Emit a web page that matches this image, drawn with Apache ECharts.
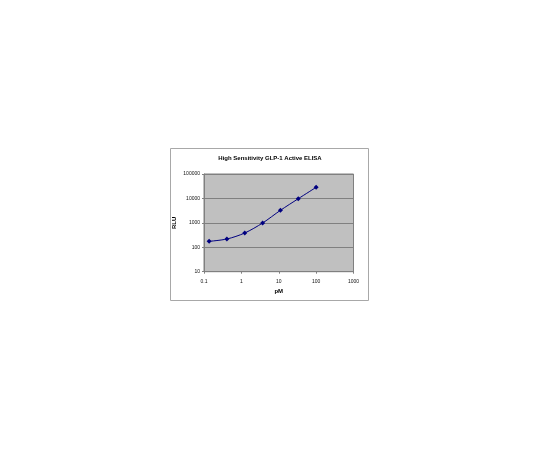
<!DOCTYPE html>
<html>
<head>
<meta charset="utf-8">
<script src="https://cdn.jsdelivr.net/npm/echarts@6/dist/echarts.min.js"></script>
<style>
  html, body { margin: 0; padding: 0; background: #fff; }
  #chart { width: 540px; height: 450px; }
</style>
</head>
<body>
<div id="chart"></div>
<script>
// GLP-1 standard curve, 3-fold dilutions
const concPM = [0.137, 0.41, 1.23, 3.7, 11.1, 33.3, 100];
const rlu = [175, 218, 384, 985, 3260, 9730, 28500];

const chart = echarts.init(document.getElementById('chart'));

const fmt = v => String(Number(v.toPrecision(6)));
const font = 'Liberation Sans, Arial, sans-serif';

const option = {
  backgroundColor: '#fff',
  animation: false,
  title: {
    text: 'High Sensitivity GLP-1 Active ELISA',
    left: 'center',
    top: 150,
    textStyle: { fontFamily: font, fontSize: 6, fontWeight: 'bold', color: '#000' }
  },
  // outer chart frame
  graphic: [{
    type: 'rect',
    shape: { x: 170.5, y: 148.5, width: 198, height: 152 },
    style: { fill: null, stroke: '#a8a8a8', lineWidth: 1 },
    z: -1
  }],
  grid: {
    left: 204, top: 174, width: 149.5, height: 97.7,
    show: true, backgroundColor: '#c0c0c0', borderColor: '#808080', borderWidth: 1
  },
  xAxis: {
    type: 'log', logBase: 10, min: 0.1, max: 1000,
    name: 'pM', nameLocation: 'middle', nameGap: 17,
    nameTextStyle: { fontFamily: font, fontSize: 6, fontWeight: 'bold', color: '#000' },
    axisLine: { lineStyle: { color: '#808080', width: 1 } },
    axisTick: { show: true, length: 2, lineStyle: { color: '#808080' } },
    minorTick: { show: false },
    splitLine: { show: false },
    axisLabel: { fontFamily: font, fontSize: 5, color: '#111', margin: 7, formatter: fmt }
  },
  yAxis: {
    type: 'log', logBase: 10, min: 10, max: 100000,
    name: 'RLU', nameLocation: 'middle', nameGap: 27, nameRotate: 90,
    nameTextStyle: { fontFamily: font, fontSize: 6, fontWeight: 'bold', color: '#000' },
    axisLine: { show: true, lineStyle: { color: '#808080', width: 1 } },
    axisTick: { show: true, length: 2, lineStyle: { color: '#808080' } },
    minorTick: { show: false },
    splitLine: { show: true, lineStyle: { color: '#808080', width: 1 } },
    axisLabel: { fontFamily: font, fontSize: 5, color: '#111', margin: 4, formatter: fmt }
  },
  series: [{
    type: 'line',
    data: concPM.map((c, i) => [c, rlu[i]]),
    smooth: 0.3,
    symbol: 'diamond',
    symbolSize: 5,
    showSymbol: true,
    itemStyle: { color: '#000080' },
    lineStyle: { color: '#000080', width: 1 }
  }]
};

chart.setOption(option);
</script>
</body>
</html>
